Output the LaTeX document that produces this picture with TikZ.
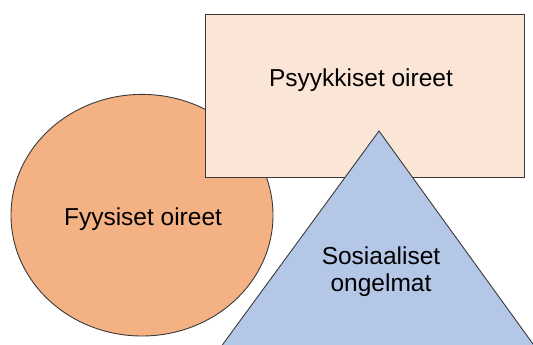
\documentclass[tikz,border=0pt]{standalone}
\usepackage{fontspec}
\setmainfont{Liberation Sans}
\definecolor{circfill}{HTML}{F4B183}
\definecolor{rectfill}{HTML}{FBE5D6}
\definecolor{trifill}{HTML}{B4C7E7}
\definecolor{edge}{HTML}{3A3A3A}
\begin{document}
\begin{tikzpicture}[x=1pt,y=-1pt,
  shapeline/.style={draw=edge, line width=0.9pt},
  lbl/.style={font=\fontsize{24.5}{27}\selectfont, align=center, inner sep=0pt}]
\useasboundingbox (0,0) rectangle (533,345);
\begin{scope}
\clip (0,0) rectangle (533,345);
\draw[shapeline, fill=circfill] (142,215.2) ellipse [x radius=131, y radius=120.8];
\node[shapeline, fill=rectfill, minimum width=318.8pt, minimum height=162.7pt, inner sep=0pt, anchor=north west] (psy) at (205,14) {};
\coordinate (apex) at (379,131);
\coordinate (bl) at (215,355);
\coordinate (br) at (541,355);
\draw[shapeline, fill=trifill] (apex) -- (bl) -- (br) -- cycle;
\end{scope}
\node[lbl] (fyys) at (143,219) {Fyysiset oireet};
\node[lbl] (psyt) at (361,80) {Psyykkiset oireet};
\node[lbl] (sos) at (381,271.5) {Sosiaaliset\\ongelmat};
\end{tikzpicture}
\end{document}
